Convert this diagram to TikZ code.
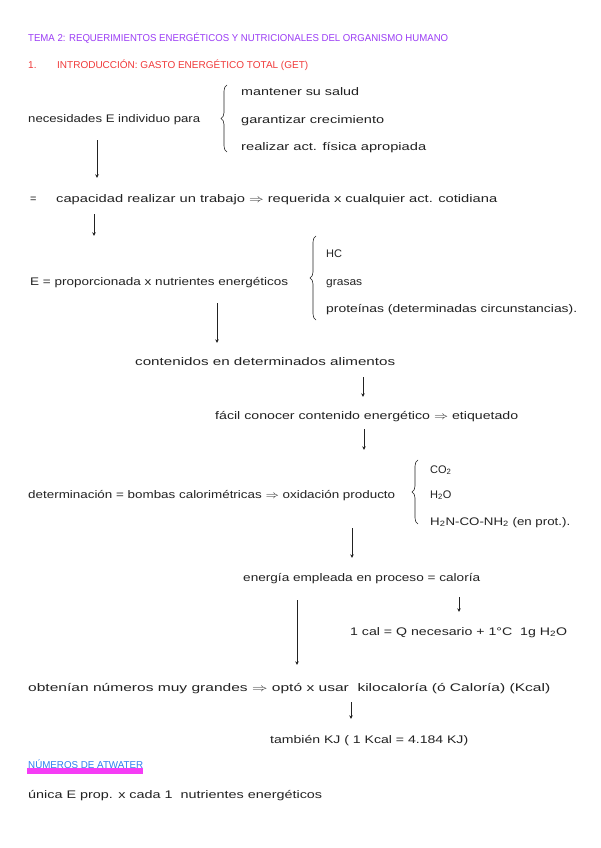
\documentclass[tikz,border=0pt]{standalone}
\usepackage{fontspec}
\setmainfont{Liberation Sans}
\usetikzlibrary{arrows.meta,decorations.pathreplacing}
\definecolor{ink}{HTML}{222222}
\definecolor{titlec}{HTML}{9B3DF5}
\definecolor{headc}{HTML}{F03A3A}
\definecolor{atwc}{HTML}{2F7FF0}
\definecolor{hlc}{HTML}{F53DF5}
\newcommand\fw[2]{\resizebox{#1pt}{\height}{#2}}
\begin{document}
\begin{tikzpicture}[x=1pt,y=-1pt,
  txt/.style={anchor=west,inner sep=0pt,text height=8pt,text depth=2pt,text=ink,font=\fontsize{11}{13}\selectfont},
  capt/.style={anchor=west,inner sep=0pt,text height=8pt,text depth=2pt,font=\fontsize{10}{12}\selectfont},
  arr/.style={draw=ink,line width=0.6pt,-{Stealth[length=3.5pt,width=3.5pt]}},
  brc/.style={draw=ink,line width=0.6pt,decorate,decoration={brace,amplitude=6pt}}]
\useasboundingbox (0,0) rectangle (600,848);
\fill[white] (0,0) rectangle (600,848);

% title and heading
\node[capt,text=titlec] (title) at (28,39) {\fw{420}{TEMA 2: REQUERIMIENTOS ENERGÉTICOS Y NUTRICIONALES DEL ORGANISMO HUMANO}};
\node[capt,text=headc] (hnum) at (28,66) {1.};
\node[capt,text=headc] (head) at (57,66) {\fw{251}{INTRODUCCIÓN: GASTO ENERGÉTICO TOTAL (GET)}};

% block 1
\node[txt] (nec) at (28,120) {\fw{172}{necesidades E individuo para}};
\coordinate (b1t) at (227,85);
\coordinate (b1b) at (227,152);
\draw[brc] (b1b) -- (b1t);
\node[txt] (m1) at (241,93) {\fw{118}{mantener su salud}};
\node[txt] (m2) at (241,121) {\fw{143}{garantizar crecimiento}};
\node[txt] (m3) at (241,147) {\fw{185}{realizar act. física apropiada}};

% block 2
\node[txt] (eq) at (30,199) {=};
\node[txt] (cap) at (56,199) {\fw{441}{capacidad realizar un trabajo $\Rightarrow$ requerida x cualquier act. cotidiana}};

% block 3
\node[txt] (eprop) at (30,282) {\fw{258}{E = proporcionada x nutrientes energéticos}};
\coordinate (b2t) at (316,236);
\coordinate (b2b) at (316,320);
\draw[brc] (b2b) -- (b2t);
\node[txt] (hc) at (326,254) {HC};
\node[txt] (gra) at (326,282) {\fw{36}{grasas}};
\node[txt] (pro) at (326,309) {\fw{251}{proteínas (determinadas circunstancias).}};

\node[txt] (cont) at (135,362) {\fw{260}{contenidos en determinados alimentos}};
\node[txt] (facil) at (215,416) {\fw{303}{fácil conocer contenido energético $\Rightarrow$ etiquetado}};

% block 4
\node[txt] (det) at (28,495) {\fw{367}{determinación = bombas calorimétricas $\Rightarrow$ oxidación producto}};
\coordinate (b3t) at (418,460);
\coordinate (b3b) at (418,524);
\draw[brc] (b3b) -- (b3t);
\node[txt] (co2) at (430,470) {CO\textsubscript{2}};
\node[txt] (h2o) at (430,495) {H\textsubscript{2}O};
\node[txt] (urea) at (430,522) {\fw{140}{H\textsubscript{2}N-CO-NH\textsubscript{2} (en prot.).}};

\node[txt] (ener) at (243,578) {\fw{237}{energía empleada en proceso = caloría}};
\node[txt] (cal) at (350,632) {\fw{217}{1 cal = Q necesario + 1°C\ \ 1g H\textsubscript{2}O}};
\node[txt] (obt) at (28,688) {\fw{522}{obtenían números muy grandes $\Rightarrow$ optó x usar\ \ kilocaloría (ó Caloría) (Kcal)}};
\node[txt] (tamb) at (270,740) {\fw{198}{también KJ ( 1 Kcal = 4.184 KJ)}};

% Atwater
\fill[hlc] (27,767.5) rectangle (143,774);
\node[capt,text=atwc] (atw) at (28,765) {\fw{115}{NÚMEROS DE ATWATER}};
\node[txt] (uni) at (28,795) {\fw{294}{única E prop. x cada 1\ \ nutrientes energéticos}};

% connectors
\coordinate (x1) at (97,0);
\coordinate (x2) at (94,0);
\coordinate (x3) at (217,0);
\coordinate (x4) at (363,0);
\coordinate (x5) at (364,0);
\coordinate (x6) at (352,0);
\coordinate (x7) at (459,0);
\coordinate (x8) at (297,0);
\coordinate (x9) at (351,0);
\draw[arr,shorten <=15pt,shorten >=16pt] (nec.south -| x1) -- (cap.north -| x1);
\draw[arr,shorten <=10pt,shorten >=41pt] (cap.south -| x2) -- (eprop.north -| x2);
\draw[arr,shorten <=16pt,shorten >=14pt] (eprop.south -| x3) -- (cont.north -| x3);
\draw[arr,shorten <=10pt,shorten >=14pt] (cont.south -| x4) -- (facil.north -| x4);
\draw[arr,shorten <=8pt,shorten >=40pt] (facil.south -| x5) -- (det.north -| x5);
\draw[arr,shorten <=28pt,shorten >=15pt] (det.south -| x6) -- (ener.north -| x6);
\draw[arr,shorten <=14pt,shorten >=15pt] (ener.south -| x7) -- (cal.north -| x7);
\draw[arr,shorten <=17pt,shorten >=18pt] (ener.south -| x8) -- (obt.north -| x8);
\draw[arr,shorten <=9pt,shorten >=16pt] (obt.south -| x9) -- (tamb.north -| x9);
\end{tikzpicture}
\end{document}
